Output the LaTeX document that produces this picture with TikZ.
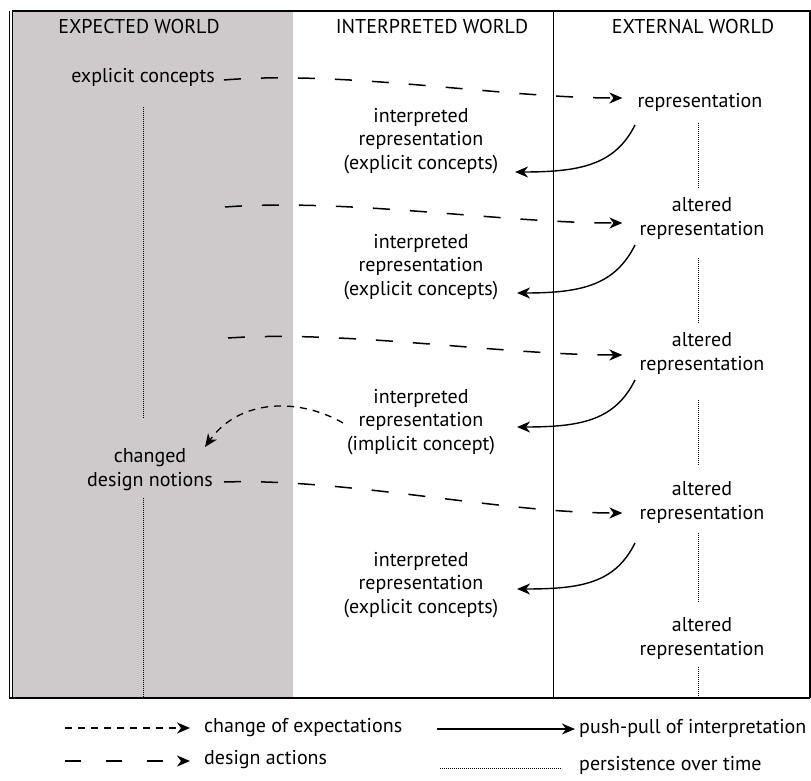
\documentclass[tikz,border=0pt]{standalone}
\usepackage{fontspec}
\setmainfont{PT Sans}
\usetikzlibrary{arrows.meta}
\definecolor{bgshade}{RGB}{206,201,203}
\begin{document}
\begin{tikzpicture}[x=1pt,y=-1pt,
  txt/.style={font=\fontsize{20}{23.5}\selectfont, align=center, inner sep=1pt},
  tipped/.style={-{Stealth[length=13pt,width=11pt,inset=4pt]}},
  act/.style={tipped, line width=1.5pt, dash pattern=on 17pt off 20pt},
  expc/.style={tipped, line width=1.3pt, dash pattern=on 7pt off 6pt},
  push/.style={tipped, line width=1.4pt},
  persist/.style={line width=0.7pt, dash pattern=on 0.7pt off 1.3pt}]
\useasboundingbox (0,0) rectangle (811,781);
% frame and columns
\fill[bgshade] (12,12) rectangle (293,697);
\draw[line width=1.2pt] (12,11) -- (810,11) -- (810,698);
\draw[line width=2pt] (9,698) -- (810,698);
\draw[line width=0.9pt] (9.5,11) -- (9.5,698);
\draw[line width=0.9pt] (12.5,11) -- (12.5,698);
\draw[line width=1pt] (553,11) -- (553,698);
% headers
\node[txt] (hexp) at (139,27) {EXPECTED WORLD};
\node[txt] (hint) at (432,27) {INTERPRETED WORLD};
\node[txt] (hext) at (693,27) {EXTERNAL WORLD};
% texts
\node[txt] (ec) at (143,77) {explicit concepts};
\node[txt] (r1) at (700,102) {representation};
\node[txt] (i1) at (421,141) {interpreted\\representation\\(explicit concepts)};
\node[txt] (a2) at (702,218.5) {altered\\representation};
\node[txt] (i2) at (421,267) {interpreted\\representation\\(explicit concepts)};
\node[txt] (a3) at (702,353.5) {altered\\representation};
\node[txt] (i3) at (421,422) {interpreted\\representation\\(implicit concept)};
\node[txt] (cd) at (150,469.5) {changed\\design notions};
\node[txt] (a4) at (702,502.5) {altered\\representation};
\node[txt] (i4) at (421,585) {interpreted\\representation\\(explicit concepts)};
\node[txt] (a5) at (702,638.5) {altered\\representation};
\coordinate (d2s) at (225,207);
\coordinate (d3s) at (228,338);
\coordinate (bl) at (143,697);
\coordinate (br) at (698,697);
% design actions
\draw[act] ([shift={(8,3)}]ec.east) .. controls +(120,-10) and +(-120,0) .. ([shift={(-14,-4)}]r1.west);
\draw[act] (d2s) .. controls +(120,-9) and +(-120,0) .. ([shift={(-16,4.5)}]a2.west);
\draw[act] (d3s) .. controls +(117,-8) and +(-120,0) .. ([shift={(-16,1.5)}]a3.west);
\draw[act] ([shift={(10,12.5)}]cd.east) .. controls +(120,-4) and +(-120,0) .. ([shift={(-16,10.5)}]a4.west);
% push-pull
\draw[push] ([shift={(-65,23)}]r1.center) .. controls +(-20,40) and +(65,0) .. ([shift={(94,31)}]i1.center);
\draw[push] ([shift={(-67,26.5)}]a2.center) .. controls +(-20,40) and +(65,0) .. ([shift={(96,26)}]i2.center);
\draw[push] ([shift={(-67,26.5)}]a3.center) .. controls +(-20,40) and +(65,0) .. ([shift={(96,5)}]i3.center);
\draw[push] ([shift={(-67,40.5)}]a4.center) .. controls +(-20,40) and +(65,0) .. ([shift={(96,4)}]i4.center);
% change of expectations
\draw[expc] ([shift={(-78,1)}]i3.center) .. controls +(-43,-25) and +(35,-49) .. ([shift={(55,-22.5)}]cd.center);
% persistence
\draw[persist] ([shift={(0,30)}]ec.center) -- ([shift={(-7,-51.5)}]cd.center);
\draw[persist] ([shift={(-7,28.5)}]cd.center) -- (bl);
\draw[persist] ([shift={(-2,21)}]r1.center) -- ([shift={(-4,-30.5)}]a2.center);
\draw[persist] ([shift={(-4,39.5)}]a2.center) -- ([shift={(-4,-30.5)}]a3.center);
\draw[persist] ([shift={(-4,46.5)}]a3.center) -- ([shift={(-4,-37.5)}]a4.center);
\draw[persist] ([shift={(-4,30.5)}]a4.center) -- ([shift={(-4,-36.5)}]a5.center);
\draw[persist] ([shift={(-4,28.5)}]a5.center) -- (br);
% legend
\node[txt, anchor=west] (l1t) at (203,728) {change of expectations};
\node[txt, anchor=west] (l2t) at (578,728) {push-pull of interpretation};
\node[txt, anchor=west] (l3t) at (203,760) {design actions};
\node[txt, anchor=west] (l4t) at (578,765) {persistence over time};
\coordinate (l1a) at (65,728);
\coordinate (l2a) at (437,729);
\coordinate (l3a) at (65,761);
\coordinate (l4a) at (440,768);
\draw[expc] (l1a) -- ([xshift=-13pt]l1t.west);
\draw[push] (l2a) -- ([shift={(-3,1)}]l2t.west);
\draw[act, dash pattern=on 16pt off 25pt] (l3a) -- ([shift={(-13,1)}]l3t.west);
\draw[persist] (l4a) -- ([shift={(-16,3)}]l4t.west);
\end{tikzpicture}
\end{document}
